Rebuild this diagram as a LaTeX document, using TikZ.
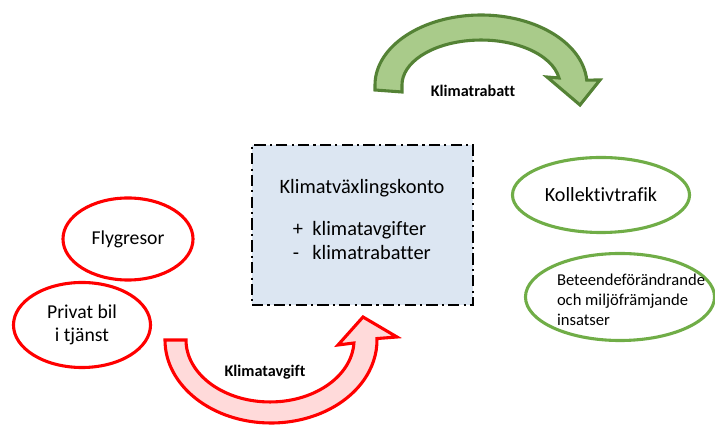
\documentclass[tikz,border=0pt]{standalone}
\usepackage{fontspec}
\setmainfont{Carlito}[Ligatures={NoCommon,NoContextual}]
\usetikzlibrary{shapes.geometric}

\definecolor{rod}{RGB}{255,0,0}
\definecolor{ljusrod}{RGB}{255,218,218}
\definecolor{gron}{RGB}{112,173,71}
\definecolor{morkgron}{RGB}{84,130,53}
\definecolor{ljusgron}{RGB}{169,203,138}
\definecolor{ljusbla}{RGB}{220,230,242}

\begin{document}
\begin{tikzpicture}[x=0.025cm, y=0.025cm,
    redell/.style={ellipse, draw=rod, line width=2.2pt, inner sep=0pt, align=center, font=\fontsize{14}{16}\selectfont},
    greenell/.style={ellipse, draw=gron, line width=2.2pt, inner sep=0pt, align=center, font=\fontsize{14.3}{16}\selectfont},
    kontobox/.style={draw=black, fill=ljusbla, line width=1.6pt, dash pattern=on 8pt off 3pt on 1.5pt off 3pt, minimum width=5.525cm, minimum height=4cm},
    pillabel/.style={font=\bfseries\fontsize{11.5}{13}\selectfont}]
      \useasboundingbox (0, 0) rectangle (715, 425);

      % konto i mitten
      \node[kontobox] (konto) at (362.5, 200) {};
      \node[font=\fontsize{14.5}{16}\selectfont] (titel) at (362, 237) {Klimatväxlingskonto};
      \node[anchor=west, font=\fontsize{14.5}{16}\selectfont] (poster) at (288, 182)
        {\renewcommand{\arraystretch}{1.05}\begin{tabular}{@{}l@{\ \ }l@{}}+ & klimatavgifter\\- & klimatrabatter\end{tabular}};

      % resor med klimatavgift
      \node[redell, minimum width=3.25cm, minimum height=2.05cm] (flyg) at (128, 186) {Flygresor};
      \node[redell, minimum width=3.425cm, minimum height=2.125cm] (bil) at (82, 100) {Privat bil\\ i tjänst};

      % satsningar med klimatrabatt
      \node[greenell, minimum width=4.425cm, minimum height=1.875cm] (kollektiv) at (601, 230) {Kollektivtrafik};
      \node[greenell, minimum width=4.725cm, minimum height=2.175cm] (insatser) at (620, 128) {};
      \node[align=left, font=\fontsize{11.8}{14.2}\selectfont] (insatstext) at (631, 125)
        {Beteendeförändrande\\och miljöfrämjande\\insatser};

      % pilar
      \draw[rod, line width=2.2pt, fill=ljusrod, line join=miter]
        (165, 85) arc[start angle=180, end angle=361, x radius=106, y radius=83]
        -- (397, 88) -- (363, 108) -- (338, 80) -- (353.9, 82)
        arc[start angle=-2.8, end angle=-180, x radius=84, y radius=62] -- cycle;
      \node[pillabel] (avgift) at (265, 53) {Klimatavgift};

      \draw[morkgron, line width=2.2pt, fill=ljusgron, line join=miter]
        (375, 335) -- (375, 340) arc[start angle=180, end angle=4, x radius=106, y radius=70]
        -- (600, 345) -- (580, 320) -- (547, 348) -- (559, 347)
        arc[start angle=9, end angle=180, x radius=79, y radius=45] -- (402, 333) -- cycle;
      \node[pillabel] (rabatt) at (473, 334) {Klimatrabatt};

    \end{tikzpicture}
\end{document}
